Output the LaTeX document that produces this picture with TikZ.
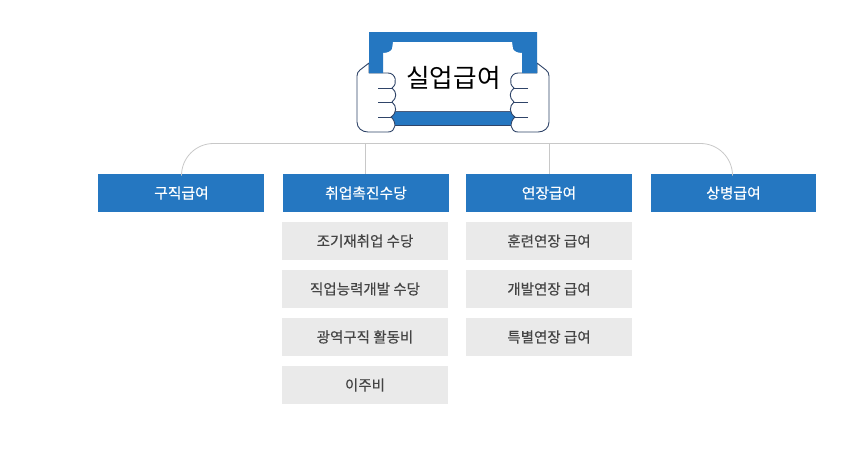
\documentclass[tikz,border=0pt]{standalone}
\usepackage{fontspec}
\newfontfamily\kr{Noto Sans CJK KR}
\newfontfamily\krb[FakeBold=0.35]{Noto Sans CJK KR}
\definecolor{bblue}{HTML}{2577C1}
\definecolor{ggrey}{HTML}{EAEAEA}
\definecolor{ttext}{HTML}{444444}
\definecolor{hand}{HTML}{2F4468}
\definecolor{bus}{HTML}{C8C8C8}
\newcommand{\lowtext}[1]{\raisebox{-0.6pt}{#1}}
\tikzset{
  x=1pt,y=-1pt,
  head/.style={fill=bblue,minimum height=38pt,inner sep=0pt,text=white,font=\krb\fontsize{14.8}{16}\selectfont},
  sub/.style={fill=ggrey,minimum height=38pt,minimum width=166pt,inner sep=0pt,text=ttext,font=\krb\fontsize{14.5}{16}\selectfont},
  conn/.style={draw=bus,line width=0.8pt},
  handline/.style={draw=hand,line width=0.9pt,line join=round},
}
\begin{document}
\begin{tikzpicture}
\useasboundingbox (0,0) rectangle (862,448);
% ticket
\fill[bblue] (369,32) rectangle (537,73);
\fill[bblue,draw=hand,line width=0.6pt] (385,111) rectangle (521,125);
\fill[white] (383,73) -- (383,53) .. controls (388,53) and (391,51) .. (392,49) -- (393,42) -- (512,42) -- (513,49) .. controls (514,51) and (517,53) .. (522,53) -- (522,111) -- (383,111) -- cycle;
% left hand
\draw[handline,fill=white] (369,63) -- (360,70) .. controls (358,72) and (357,73) .. (357,76) -- (357,122)
  .. controls (357,128) and (362,132) .. (368,132) -- (388,132)
  .. controls (396,132) and (397,122) .. (391,117)
  .. controls (397,113) and (397,106) .. (392,102)
  .. controls (397,98) and (397,92) .. (392,88)
  .. controls (398,84) and (396,73) .. (388,73) -- (369,73) -- cycle;
\draw[handline] (378,88) -- (392,88) (378,102) -- (392,102) (378,117) -- (391,117);
% right hand
\draw[handline,fill=white] (537,63) -- (546,70) .. controls (548,72) and (549,73) .. (549,76) -- (549,122)
  .. controls (549,128) and (544,132) .. (538,132) -- (518,132)
  .. controls (510,132) and (509,122) .. (515,117)
  .. controls (509,113) and (509,106) .. (514,102)
  .. controls (509,98) and (509,92) .. (514,88)
  .. controls (508,84) and (510,73) .. (518,73) -- (537,73) -- cycle;
\draw[handline] (528,88) -- (514,88) (528,102) -- (514,102) (528,117) -- (515,117);
\fill[bblue] (369,32) rectangle (383,73) (522,32) rectangle (537,73);
\node[inner sep=0pt,text=black,font=\kr\fontsize{25.6}{28}\selectfont] (root) at (453.5,77.5) {실업급여};
% heads
\node[head,minimum width=166pt] (h1) at (181,193) {\lowtext{\hspace{1pt}구직급여}};
\node[head,minimum width=166pt] (h2) at (366,193) {\lowtext{취업촉진수당}};
\node[head,minimum width=166pt] (h3) at (549,193) {\lowtext{연장급여}};
\node[head,minimum width=165pt] (h4) at (733.5,193) {\lowtext{상병급여}};
% subs
\node[sub] (a1) at (365,241) {\lowtext{조기재취업 수당}};
\node[sub] (a2) at (365,289) {\lowtext{직업능력개발 수당}};
\node[sub] (a3) at (365,337) {\lowtext{광역구직 활동비}};
\node[sub] (a4) at (365,385) {\lowtext{이주비}};
\node[sub] (b1) at (549,241) {\lowtext{훈련연장 급여}};
\node[sub] (b2) at (549,289) {\lowtext{개발연장 급여}};
\node[sub] (b3) at (549,337) {\lowtext{특별연장 급여}};
% connectors
\coordinate (busA) at (365.5,143.5);
\coordinate (busB) at (549.5,143.5);
\draw[conn,rounded corners=32pt] (181.5,174) -- (181.5,143.5) -- (732.5,143.5) -- (732.5,174);
\draw[conn] (busA) -- (365.5,174);
\draw[conn] (busB) -- (549.5,174);
\end{tikzpicture}
\end{document}
